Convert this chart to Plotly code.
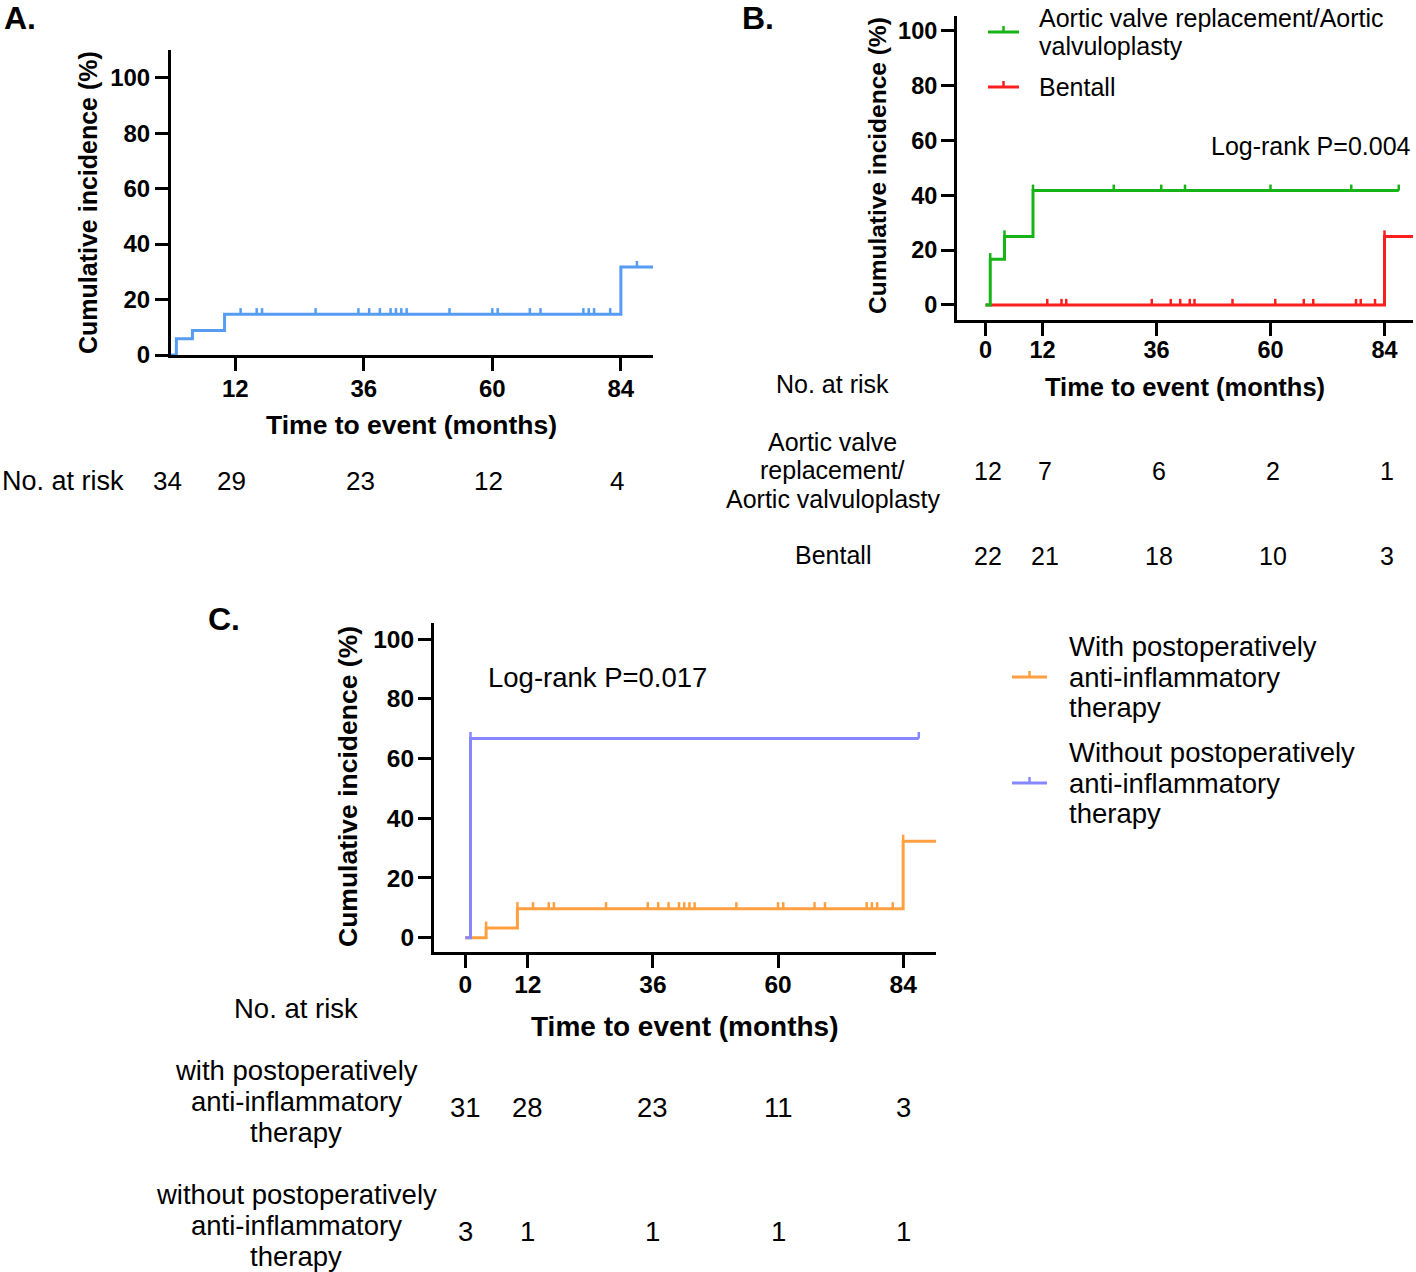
import plotly.graph_objects as go

W, H = 1416, 1272
H_EFF = 1259  # measured vertical extent of the rendered page area
FONT = "Liberation Sans, Arial, Helvetica, sans-serif"

# ---------------- data ----------------
# Panel A: all patients
a_times = [0, 1, 4, 10, 84]
a_cuminc = [0, 5.9, 8.8, 14.7, 31.7]
a_end = 90
a_censor = [13, 16, 17, 27, 35, 37, 39, 41, 42, 43, 44, 52, 60, 61, 67, 69, 77, 78, 79, 82, 87]

# Panel B: by procedure
b_avr_times = [0, 1, 4, 10]
b_avr_cuminc = [0, 16.7, 25.0, 41.7]
b_avr_end = 87
b_avr_censor = [1, 4, 10, 27, 37, 42, 60, 77, 87]

b_ben_times = [0, 84]
b_ben_cuminc = [0, 25.0]
b_ben_end = 91
b_ben_censor = [13, 16, 17, 35, 39, 41, 43, 44, 52, 61, 67, 69, 78, 79, 82, 84]

# Panel C: by postoperative anti-inflammatory therapy
c_with_times = [0, 4, 10, 84]
c_with_cuminc = [0, 3.2, 9.7, 32.3]
c_with_end = 91
c_with_censor = [4, 10, 13, 16, 17, 27, 35, 37, 39, 41, 42, 43, 44, 52, 60, 61, 67, 69, 77, 78, 79, 82, 84]

c_without_times = [0, 1]
c_without_cuminc = [0, 66.7]
c_without_end = 87
c_without_censor = [1, 87]

# risk tables
risk_times = [0, 12, 36, 60, 84]
a_risk = [34, 29, 23, 12, 4]
b_risk_avr = [12, 7, 6, 2, 1]
b_risk_ben = [22, 21, 18, 10, 3]
c_risk_with = [31, 28, 23, 11, 3]
c_risk_without = [3, 1, 1, 1, 1]

y_ticks = [0, 20, 40, 60, 80, 100]
a_x_ticks = [12, 36, 60, 84]
bc_x_ticks = [0, 12, 36, 60, 84]

b_legend_labels = ["Aortic valve replacement/Aortic\nvalvuloplasty", "Bentall"]
c_legend_labels = ["With postoperatively\nanti-inflammatory\ntherapy",
                   "Without postoperatively\nanti-inflammatory\ntherapy"]
b_risk_labels = ["Aortic valve\nreplacement/\nAortic valvuloplasty", "Bentall"]
c_risk_labels = ["with postoperatively\nanti-inflammatory\ntherapy",
                 "without postoperatively\nanti-inflammatory\ntherapy"]
b_pval = "Log-rank P=0.004"
c_pval = "Log-rank P=0.017"

# colours
COL_A = "#559CF2"
COL_AVR = "#17B417"
COL_BEN = "#FA1E1E"
COL_WITH = "#FFA040"
COL_WITHOUT = "#8787FF"

# panel geometry (pixels) and axis ranges
A_XPX, A_YPX = (171, 653), (50, 355)
B_XPX, B_YPX = (957, 1413), (16, 320)
C_XPX, C_YPX = (434, 936), (623, 952)
A_XR, A_YR = [0, 90], [0, 110]
B_XR, B_YR = [-6, 90], [-5.5, 105.4]
C_XR, C_YR = [-6, 90.3], [-4.8, 105.4]


# ---------------- helpers ----------------
def px_x(px):
    return px / W


def px_y(py):
    return 1 - py / H_EFF


def data_x_to_paper(t, xr, xpx):
    frac = (t - xr[0]) / (xr[1] - xr[0])
    return px_x(xpx[0] + frac * (xpx[1] - xpx[0]))


def value_at(times, cum, t):
    v = cum[0]
    for tt, cc in zip(times, cum):
        if tt <= t:
            v = cc
    return v


fig = go.Figure()


def km(times, cum, end, censor, color, xa, ya, tick_h=2.2):
    xs = list(times) + [end]
    ys = list(cum) + [cum[-1]]
    fig.add_trace(go.Scatter(x=xs, y=ys, mode="lines", xaxis=xa, yaxis=ya,
                             line=dict(color=color, width=3, shape="hv"),
                             showlegend=False, hoverinfo="skip"))
    cx, cy = [], []
    for t in censor:
        v = value_at(times, cum, t)
        cx += [t, t, None]
        cy += [v, v + tick_h, None]
    fig.add_trace(go.Scatter(x=cx, y=cy, mode="lines", xaxis=xa, yaxis=ya,
                             line=dict(color=color, width=2.5),
                             showlegend=False, hoverinfo="skip"))


km(a_times, a_cuminc, a_end, a_censor, COL_A, "x", "y")
km(b_ben_times, b_ben_cuminc, b_ben_end, b_ben_censor, COL_BEN, "x2", "y2")
km(b_avr_times, b_avr_cuminc, b_avr_end, b_avr_censor, COL_AVR, "x2", "y2")
km(c_with_times, c_with_cuminc, c_with_end, c_with_censor, COL_WITH, "x3", "y3")
km(c_without_times, c_without_cuminc, c_without_end, c_without_censor, COL_WITHOUT, "x3", "y3")


def axis_common(tickvals, rng, dom, tsize, anchor, standoff):
    return dict(range=rng, domain=dom, tickvals=tickvals, ticktext=[str(v) for v in tickvals],
                showline=True, linewidth=3, linecolor="black", mirror=False,
                ticks="outside", ticklen=13, tickwidth=3, tickcolor="black",
                showgrid=False, zeroline=False, anchor=anchor,
                ticklabelstandoff=standoff,
                tickfont=dict(family=FONT, size=tsize, color="black", weight="bold"),
                fixedrange=True)


def xdom(p):
    return [px_x(p[0]), px_x(p[1])]


def ydom(p):
    return [px_y(p[1]), px_y(p[0])]


layout = dict(
    autosize=True, margin=dict(l=0, r=0, t=0, b=0),
    paper_bgcolor="white", plot_bgcolor="white",
    font=dict(family=FONT, color="black"),
    showlegend=False,
)
layout["xaxis"] = axis_common(a_x_ticks, A_XR, xdom(A_XPX), 24, "y", -3)
layout["yaxis"] = axis_common(y_ticks, A_YR, ydom(A_YPX), 24, "x", 0)
layout["xaxis2"] = axis_common(bc_x_ticks, B_XR, xdom(B_XPX), 23.5, "y2", -6)
layout["yaxis2"] = axis_common(y_ticks, B_YR, ydom(B_YPX), 23.5, "x2", -1)
layout["xaxis3"] = axis_common(bc_x_ticks, C_XR, xdom(C_XPX), 24.5, "y3", -4)
layout["yaxis3"] = axis_common(y_ticks, C_YR, ydom(C_YPX), 24.5, "x3", -1)
fig.update_layout(**layout)

ann = []
shapes = []


def text(t, x, y, size, xanchor="center", bold=False, angle=0, xref="paper", yref="paper"):
    ann.append(dict(text=t, x=x, y=y, xref=xref, yref=yref, showarrow=False,
                    xanchor=xanchor, yanchor="middle", textangle=angle,
                    font=dict(family=FONT, size=size, color="black",
                              weight="bold" if bold else "normal")))


def multiline(label, x, yc, size, spacing, xanchor="center"):
    lines = label.split("\n")
    n = len(lines)
    for i, ln in enumerate(lines):
        py = yc + (i - (n - 1) / 2) * spacing
        text(ln, x, px_y(py), size, xanchor=xanchor)


# panel letters
text("A.", px_x(2), px_y(18), 32, xanchor="left", bold=True)
text("B.", px_x(740), px_y(18), 32, xanchor="left", bold=True)
text("C.", px_x(206), px_y(619), 32, xanchor="left", bold=True)

# axis titles
text("Cumulative incidence (%)", px_x(88), px_y(203), 25, bold=True, angle=-90)
text("Time to event (months)", px_x(411), px_y(425), 26.5, bold=True)
text("Cumulative incidence (%)", px_x(878), px_y(166), 24.5, bold=True, angle=-90)
text("Time to event (months)", px_x(1185), px_y(387), 25.5, bold=True)
text("Cumulative incidence (%)", px_x(348), px_y(787), 26.5, bold=True, angle=-90)
text("Time to event (months)", px_x(685), px_y(1026), 28, bold=True)

# log-rank
text(b_pval, 90, 58, 25, xanchor="right", xref="x2", yref="y2")
text(c_pval, 4, 87.3, 27.5, xanchor="left", xref="x3", yref="y3")

# risk table A
text("No. at risk", px_x(0), px_y(481), 27, xanchor="left")
for t, n in zip(risk_times, a_risk):
    text(str(n), data_x_to_paper(t - 0.7, A_XR, A_XPX), px_y(481), 26)

# risk table B
text("No. at risk", px_x(833), px_y(384), 25)
multiline(b_risk_labels[0], px_x(833), 470, 25, 28.5)
multiline(b_risk_labels[1], px_x(833), 555, 25, 28.5)
for t, n in zip(risk_times, b_risk_avr):
    text(str(n), data_x_to_paper(t + 0.5, B_XR, B_XPX), px_y(471), 25)
for t, n in zip(risk_times, b_risk_ben):
    text(str(n), data_x_to_paper(t + 0.5, B_XR, B_XPX), px_y(556), 25)

# risk table C
text("No. at risk", px_x(296), px_y(1008), 27.5)
multiline(c_risk_labels[0], px_x(296), 1101, 27.5, 31)
multiline(c_risk_labels[1], px_x(296), 1225, 27.5, 31)
for t, n in zip(risk_times, c_risk_with):
    text(str(n), data_x_to_paper(t, C_XR, C_XPX), px_y(1107), 27.5)
for t, n in zip(risk_times, c_risk_without):
    text(str(n), data_x_to_paper(t, C_XR, C_XPX), px_y(1231), 27.5)


# legends (drawn manually)
def legend_item(color, x0, x1, yc, label, tx, size, spacing):
    shapes.append(dict(type="line", xref="paper", yref="paper",
                       x0=px_x(x0), x1=px_x(x1), y0=px_y(yc), y1=px_y(yc),
                       line=dict(color=color, width=3)))
    xm = (x0 + x1) / 2
    shapes.append(dict(type="line", xref="paper", yref="paper",
                       x0=px_x(xm), x1=px_x(xm), y0=px_y(yc), y1=px_y(yc - 6),
                       line=dict(color=color, width=2.5)))
    lines = label.split("\n")
    top = yc - (len(lines) - 1) / 2 * spacing
    multiline(label, px_x(tx), yc if len(lines) != 2 else top + spacing / 2, size, spacing, xanchor="left")


legend_item(COL_AVR, 988, 1019, 32, b_legend_labels[0], 1037, 25, 28)
legend_item(COL_BEN, 988, 1019, 87, b_legend_labels[1], 1037, 25, 28)
legend_item(COL_WITH, 1012, 1047, 677, c_legend_labels[0], 1067, 27.5, 30.5)
legend_item(COL_WITHOUT, 1012, 1047, 783, c_legend_labels[1], 1067, 27.5, 30.5)

fig.update_layout(annotations=ann, shapes=shapes)

post = ("document.documentElement.style.margin='0';document.body.style.margin='0';"
        "document.body.style.padding='0';document.documentElement.style.overflow='hidden';"
        "document.body.style.overflow='hidden';")
fig.write_html("out.html", config={"displayModeBar": False, "responsive": True},
               default_width="100vw", default_height="100vh", post_script=post)
